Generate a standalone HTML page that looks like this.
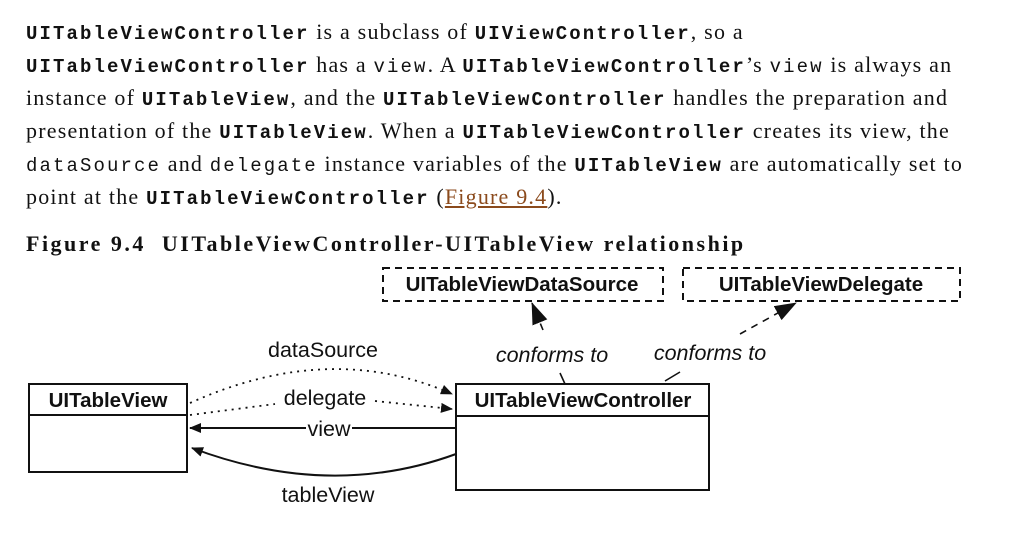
<!DOCTYPE html>
<html><head><meta charset="utf-8"><style>
body{margin:0;width:1014px;height:540px;background:#fff;overflow:hidden;position:relative;font-family:"Liberation Serif",serif;color:#111}
.l{position:absolute;left:26px;font-size:22px;letter-spacing:1.2px;white-space:nowrap;line-height:22px}
code{font-family:"Liberation Mono",monospace;font-size:19px;font-weight:bold;letter-spacing:2.1px}
code.n{font-weight:normal}
a{color:#8b4a1c;text-decoration:underline}
svg{position:absolute;left:0;top:0}
</style></head><body>
<div class="l" style="top:21px"><code>UITableViewController</code> is a subclass of <code>UIViewController</code>, so a</div>
<div class="l" style="top:54px"><code>UITableViewController</code> has a <code class="n">view</code>. A <code>UITableViewController</code>’s <code class="n">view</code> is always an</div>
<div class="l" style="top:87px">instance of <code>UITableView</code>, and the <code>UITableViewController</code> handles the preparation and</div>
<div class="l" style="top:120px">presentation of the <code>UITableView</code>. When a <code>UITableViewController</code> creates its view, the</div>
<div class="l" style="top:153px"><code class="n">dataSource</code> and <code class="n">delegate</code> instance variables of the <code>UITableView</code> are automatically set to</div>
<div class="l" style="top:186px">point at the <code>UITableViewController</code> (<a>Figure 9.4</a>).</div>
<div class="l" style="top:233px;font-weight:bold;font-size:22px;letter-spacing:2.5px">Figure 9.4&nbsp; UITableViewController-UITableView relationship</div>
<svg width="1014" height="540" font-family="Liberation Sans, sans-serif" font-size="21.5">
<defs><marker id="a" markerWidth="12" markerHeight="10" refX="11" refY="5" orient="auto" markerUnits="userSpaceOnUse"><path d="M0,0L12,5L0,10z" fill="#111"/></marker>
<marker id="b" markerWidth="22" markerHeight="16" refX="21" refY="8" orient="auto" markerUnits="userSpaceOnUse"><path d="M0,0L22,8L0,16z" fill="#111"/></marker></defs>
<g stroke="#111" stroke-width="2" fill="none">
<rect x="29" y="384" width="158" height="88"/><line x1="29" y1="415" x2="187" y2="415"/>
<rect x="456" y="384" width="253" height="106"/><line x1="456" y1="416" x2="709" y2="416"/>
<g stroke-dasharray="7,5"><rect x="383" y="268" width="280" height="33"/><rect x="683" y="268" width="277" height="33"/></g>
<g stroke-dasharray="2,5" stroke-width="1.8">
<path d="M190,403 Q330,340 452,394" marker-end="url(#a)"/>
<path d="M190,415 L275,404 M375,401 L452,409" marker-end="url(#a)"/>
</g>
<path d="M456,428 H352 M306,428 H190" marker-end="url(#a)"/>
<path d="M456,454 Q330,500 192,448" marker-end="url(#a)"/>
<g stroke-dasharray="7,6" stroke-width="1.6">
<path d="M543,330 L532,303" marker-end="url(#b)"/>
<path d="M740,334 L796,303" marker-end="url(#b)"/>
</g>
<path d="M560,373 L565,384 M665,381 L680,372" stroke-width="1.6"/>
</g>
<g fill="#111" text-anchor="middle">
<text x="108" y="407" font-weight="bold" font-size="20.5">UITableView</text>
<text x="583" y="407" font-weight="bold" font-size="20.5">UITableViewController</text>
<text x="522" y="291" font-weight="bold" font-size="20.5">UITableViewDataSource</text>
<text x="821" y="291" font-weight="bold" font-size="20.5">UITableViewDelegate</text>
<text x="323" y="357">dataSource</text>
<text x="325" y="405">delegate</text>
<text x="329" y="436">view</text>
<text x="328" y="502">tableView</text>
<text x="552" y="362" font-style="italic">conforms to</text>
<text x="710" y="360" font-style="italic">conforms to</text>
</g>
</svg>
</body></html>
